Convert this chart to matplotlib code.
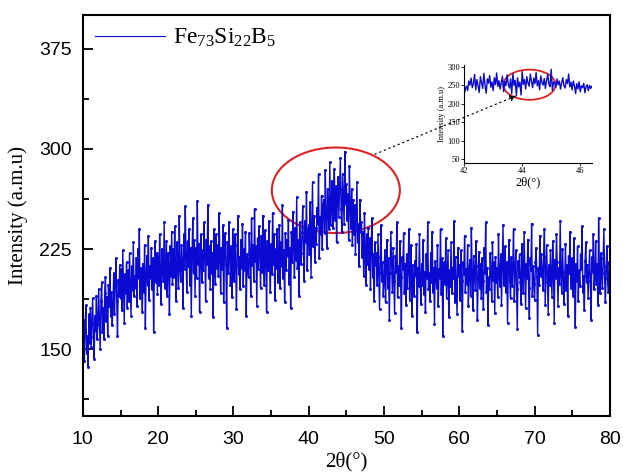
import matplotlib
matplotlib.use("Agg")
import matplotlib.pyplot as plt
import numpy as np
from matplotlib.lines import Line2D
from matplotlib.patches import Ellipse, ConnectionPatch
from matplotlib.ticker import MultipleLocator

# XRD pattern of Fe73Si22B5, one row per degree (step 0.1 deg)
intensity = [
    150, 172, 141, 165, 183, 147, 160, 137, 176, 155,
    181, 152, 170, 188, 159, 143, 175, 164, 190, 158,
    169, 195, 172, 150, 186, 200, 163, 181, 158, 192,
    204, 171, 189, 160, 198, 182, 211, 175, 193, 168,
    183, 207, 176, 199, 218, 186, 160, 202, 190, 213,
    188, 210, 179, 224, 195, 170, 206, 192, 215, 181,
    209, 186, 222, 198, 175, 212, 194, 230, 190, 205,
    196, 218, 182, 225, 203, 240, 188, 211, 199, 178,
    214, 193, 228, 166, 205, 220, 198, 235, 187, 212,
    203, 226, 195, 218, 163, 209, 231, 200, 222, 191,
    220, 198, 236, 207, 184, 225, 214, 201, 245, 196,
    208, 231, 190, 222, 212, 176, 227, 205, 238, 199,
    225, 204, 242, 211, 186, 230, 218, 196, 250, 209,
    201, 228, 215, 181, 236, 210, 257, 219, 193, 231,
    212, 240, 198, 226, 175, 221, 248, 207, 232, 190,
    226, 203, 261, 214, 229, 178, 218, 236, 200, 224,
    209, 245, 221, 186, 232, 214, 258, 203, 227, 195,
    231, 207, 222, 174, 240, 216, 199, 236, 211, 228,
    205, 252, 218, 192, 226, 210, 243, 185, 221, 237,
    214, 166, 230, 207, 245, 219, 198, 227, 189, 240,
    223, 201, 236, 213, 180, 228, 250, 206, 219, 195,
    232, 211, 244, 197, 225, 209, 238, 175, 221, 214,
    204, 237, 219, 190, 248, 213, 228, 201, 255, 216,
    227, 182, 233, 210, 242, 222, 196, 235, 208, 250,
    215, 198, 239, 221, 178, 231, 209, 246, 217, 193,
    229, 206, 252, 214, 236, 187, 225, 211, 240, 200,
    218, 243, 196, 230, 212, 258, 203, 224, 185, 237,
    209, 232, 220, 247, 199, 226, 181, 238, 215, 253,
    226, 204, 241, 217, 264, 211, 232, 190, 245, 220,
    214, 238, 257, 222, 201, 246, 230, 268, 209, 235,
    243, 221, 260, 204, 238, 275, 227, 250, 215, 241,
    229, 256, 244, 281, 218, 249, 236, 265, 225, 258,
    262, 237, 284, 248, 226, 270, 252, 240, 290, 243,
    258, 276, 241, 266, 285, 247, 272, 230, 263, 279,
    249, 270, 293, 255, 238, 281, 262, 244, 298, 259,
    274, 247, 266, 232, 287, 255, 241, 270, 228, 262,
    236, 258, 221, 249, 275, 230, 244, 212, 262, 238,
    245, 219, 238, 205, 252, 227, 198, 236, 214, 241,
    210, 233, 195, 227, 248, 204, 221, 186, 230, 213,
    222, 198, 236, 207, 180, 219, 243, 201, 215, 190,
    200, 224, 185, 213, 232, 196, 218, 172, 207, 238,
    215, 193, 226, 201, 177, 220, 208, 245, 189, 212,
    198, 231, 204, 166, 219, 210, 237, 192, 214, 183,
    221, 196, 210, 240, 187, 206, 228, 175, 213, 199,
    190, 216, 205, 229, 163, 211, 197, 236, 202, 184,
    214, 198, 232, 191, 208, 178, 221, 203, 245, 195,
    207, 186, 222, 200, 238, 193, 211, 169, 216, 204,
    196, 228, 182, 210, 203, 240, 191, 218, 160, 207,
    215, 199, 233, 188, 206, 224, 174, 209, 197, 230,
    192, 211, 203, 246, 185, 219, 198, 176, 226, 205,
    213, 187, 224, 201, 164, 215, 206, 235, 193, 210,
    199, 228, 182, 209, 217, 190, 241, 205, 179, 220,
    206, 194, 231, 212, 172, 203, 223, 196, 214, 188,
    218, 201, 180, 226, 207, 245, 193, 211, 168, 204,
    195, 222, 208, 186, 230, 202, 215, 177, 219, 200,
    211, 189, 236, 204, 197, 221, 183, 212, 243, 198,
    206, 227, 193, 215, 170, 209, 232, 201, 188, 219,
    197, 213, 240, 186, 208, 224, 195, 165, 216, 204,
    221, 200, 184, 229, 207, 192, 238, 211, 181, 214,
    203, 232, 196, 173, 218, 209, 244, 190, 212, 199,
    187, 215, 226, 204, 161, 211, 198, 235, 205, 221,
    209, 194, 219, 240, 183, 206, 228, 200, 176, 213,
    198, 224, 206, 189, 231, 212, 170, 217, 203, 236,
    215, 182, 211, 199, 246, 205, 192, 225, 208, 184,
    202, 229, 194, 213, 175, 220, 207, 238, 196, 210,
    218, 190, 233, 205, 167, 214, 201, 227, 186, 209,
    197, 221, 210, 242, 193, 205, 179, 216, 230, 200,
    213, 188, 207, 224, 201, 172, 219, 208, 236, 195,
    205, 231, 199, 214, 183, 248, 210, 192, 222, 207,
    196, 218, 240, 203, 185, 212, 227, 201, 193, 215,
    208,
]
two_theta = np.linspace(10, 80, len(intensity))

# zoomed scan 42-46.4 deg shown in the inset
inset_intensity = [
    225, 240, 248, 236, 262, 251, 270, 244, 255, 280, 238, 266, 249, 231, 274,
    258, 242, 283, 250, 229, 268, 256, 277, 245, 260, 236, 271, 252, 284, 247,
    263, 240, 258, 275, 233, 261, 249, 279, 254, 243, 268, 227, 282, 250, 264,
    222, 271, 246, 259, 224, 288, 253, 266, 240, 274, 257, 248, 281, 262, 244,
    270, 255, 285, 249, 263, 238, 276, 258, 251, 269, 242, 264, 280, 253, 247,
    294, 236, 260, 257, 245, 268, 252, 262, 240, 257, 271, 249, 243, 266, 255,
    281, 246, 259, 238, 262, 250, 228, 255, 241, 260, 233, 249, 244, 256, 230,
    247, 252, 236, 250, 242, 248,
]
inset_theta = np.linspace(42, 46.4, len(inset_intensity))

serif = "Liberation Serif"
sans = "Liberation Sans"
blue = "#0a0ad2"

plt.rcParams["mathtext.fontset"] = "custom"
plt.rcParams["mathtext.rm"] = serif

fig = plt.figure(figsize=(6.23, 4.76), dpi=100)
ax = fig.add_axes([0.133, 0.126, 0.846, 0.842])

ax.plot(two_theta, intensity, color=blue, lw=1.0, marker="s", ms=1.0,
        mec=blue)
ax.set_xlim(10, 80)
ax.set_ylim(100, 400)
ax.xaxis.set_major_locator(MultipleLocator(10))
ax.xaxis.set_minor_locator(MultipleLocator(5))
ax.yaxis.set_minor_locator(MultipleLocator(37.5))
ax.set_yticks([150, 225, 300, 375])
ax.tick_params(which="both", direction="in", top=False, right=False,
               width=1.3, labelsize=14)
ax.tick_params(which="major", length=7)
ax.tick_params(which="minor", length=4)
ax.tick_params(axis="x", pad=11)
ax.tick_params(axis="y", pad=8)
for lab in ax.get_xticklabels() + ax.get_yticklabels():
    lab.set_family(sans)
for sp in ax.spines.values():
    sp.set_linewidth(1.5)
ax.set_xlabel("2θ(°)", family=serif, fontsize=15, labelpad=3)
ax.set_ylabel("Intensity (a.m.u)", family=serif, fontsize=15, labelpad=8)

handle = Line2D([], [], color=blue, lw=0.8)
ax.legend([handle], [r"$\mathregular{Fe_{73}Si_{22}B_5}$"], loc="upper left",
          frameon=False, handlelength=3.0, handletextpad=0.3,
          borderaxespad=0.2, borderpad=0.3,
          prop={"family": serif, "size": 17})

ax.add_patch(Ellipse((43.6, 269), 17, 64, fill=False, ec="#dd2222", lw=1.5))

# inset
axin = fig.add_axes([0.745, 0.658, 0.205, 0.205])
axin.plot(inset_theta, inset_intensity, color=blue, lw=1.0)
axin.set_xlim(42, 46.4)
axin.set_ylim(40, 305)
axin.set_xticks([42, 44, 46])
axin.set_yticks([50, 100, 150, 200, 250, 300])
axin.tick_params(labelsize=6, length=2, width=0.6, pad=1)
for lab in axin.get_xticklabels() + axin.get_yticklabels():
    lab.set_family(serif)
axin.spines["top"].set_visible(False)
axin.spines["right"].set_visible(False)
axin.set_xlabel("2θ(°)", family=serif, fontsize=9, labelpad=1)
axin.set_ylabel("Intensity (a.m.u)", family=serif, fontsize=6, labelpad=1)
axin.add_patch(Ellipse((44.25, 252), 1.8, 82, fill=False, ec="#dd2222", lw=1.3))

con = ConnectionPatch(xyA=(48.8, 296), coordsA=ax.transData,
                      xyB=(43.8, 222), coordsB=axin.transData,
                      arrowstyle="-|>", linestyle=(0, (1, 3)), color="k",
                      lw=0.9, mutation_scale=9)
fig.add_artist(con)

fig.savefig("out.png", dpi=100)
